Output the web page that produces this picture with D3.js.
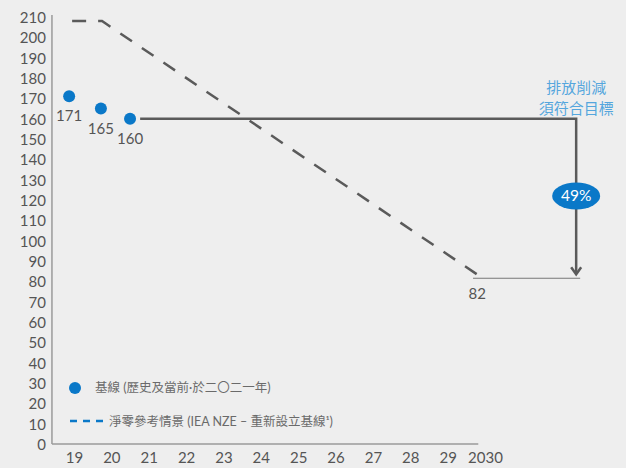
<!DOCTYPE html>
<html><head><meta charset="utf-8">
<script src="https://cdn.jsdelivr.net/npm/d3@7"></script>
<style>
html,body{margin:0;padding:0;background:#eeeeee;}
svg{display:block;font-family:Lato,"Noto Sans CJK TC",sans-serif;}
</style></head>
<body>
<svg id="c" width="626" height="468"></svg>
<script>
// ---- data ----
const xTickYears = [2019,2020,2021,2022,2023,2024,2025,2026,2027,2028,2029,2030];
const xTickLabels = ["19","20","21","22","23","24","25","26","27","28","29","2030"];
const yTicks = d3.range(0, 211, 10);
const baseYears = [2018.87, 2019.72, 2020.5];
const baseValues = [171, 165, 160];
const baseLabels = ["171", "165", "160"];
const nzeYears = [2018.95, 2019.75, 2029.9];
const nzeValues = [208, 208, 82];
const targetYears = [2020.77, 2032.44];
const targetValues = [160, 82];
const reductionLabel = "49%";
const targetTitle = ["排放削減", "須符合目標"];
const legendLabels = ["基線 (歷史及當前·於二〇二一年)", "淨零參考情景 (IEA NZE – 重新設立基線¹)"];

// ---- layout ----
const svg = d3.select("#c");
const x = d3.scaleLinear().domain([2019, 2030]).range([74, 485]);
const y = d3.scaleLinear().domain([0, 210]).range([444, 17]);
const gray = "#5a5a5a", axisGray = "#9a9a9a", blue = "#0a78c8", txt = "#555";

// axes lines
svg.append("line").attr("x1", x(2018.41)).attr("x2", x(2018.41)).attr("y1", y(0)).attr("y2", y(211))
  .attr("stroke", axisGray).attr("stroke-width", 1.5);
svg.append("line").attr("x1", x(2018.41)).attr("x2", x(2029.82)).attr("y1", y(0)).attr("y2", y(0))
  .attr("stroke", axisGray).attr("stroke-width", 1.5);

// y axis labels
const yAx = svg.append("g").attr("transform", `translate(${x(2018.41) - 6},0)`)
  .call(d3.axisLeft(y).tickValues(yTicks).tickSize(0).tickPadding(0));
yAx.select(".domain").remove();
yAx.selectAll("text").attr("font-size", 15).attr("fill", txt).attr("font-family", "Lato").attr("dy", "0.36em");

// x axis labels
const xAx = svg.append("g").attr("transform", `translate(0,${y(0) + 8})`)
  .call(d3.axisBottom(x).tickValues(xTickYears).tickFormat((d, i) => xTickLabels[i]).tickSize(0).tickPadding(0));
xAx.select(".domain").remove();
xAx.selectAll("text").attr("font-size", 15).attr("fill", txt).attr("font-family", "Lato");

// NZE dashed line
const line = d3.line().x(d => x(d[0])).y(d => y(d[1]));
svg.append("path").datum(nzeYears.map((d, i) => [d, nzeValues[i]]))
  .attr("d", line).attr("fill", "none").attr("stroke", gray).attr("stroke-width", 2.5)
  .attr("stroke-dasharray", "14 12");
svg.append("text").attr("x", x(nzeYears[2]) - 4).attr("y", y(nzeValues[2]) + 22)
  .attr("text-anchor", "middle").attr("font-size", 15).attr("fill", txt).text(String(nzeValues[2]));

// target: horizontal solid line then down arrow
const tx0 = x(targetYears[0]), tx1 = x(targetYears[1]);
const ty0 = y(targetValues[0]), ty1 = y(targetValues[1]);
svg.append("line").attr("x1", x(2029.68)).attr("x2", tx1 + 4).attr("y1", ty1 + 1).attr("y2", ty1 + 1)
  .attr("stroke", "#777").attr("stroke-width", 1.2);
svg.append("path").attr("d", `M${tx0},${ty0}H${tx1}V${ty1 - 4}`)
  .attr("fill", "none").attr("stroke", gray).attr("stroke-width", 2.5);
svg.append("path").attr("d", `M${tx1 - 5},${ty1 - 10}L${tx1},${ty1 - 3}L${tx1 + 5},${ty1 - 10}`)
  .attr("fill", "none").attr("stroke", gray).attr("stroke-width", 2.5);

// 49% ellipse
const ey = y((targetValues[0] + targetValues[1]) / 2 + 1);
svg.append("ellipse").attr("cx", tx1).attr("cy", ey).attr("rx", 24).attr("ry", 13.5).attr("fill", blue);
svg.append("text").attr("x", tx1).attr("y", ey + 5.5).attr("text-anchor", "middle")
  .attr("font-size", 15.5).attr("fill", "#fff").text(reductionLabel);

// target title
targetTitle.forEach((t, i) => {
  svg.append("text").attr("x", tx1).attr("y", 93 + i * 21).attr("text-anchor", "middle")
    .attr("font-size", 15).attr("fill", "#55a6dd").attr("font-family", "Noto Sans CJK TC").text(t);
});

// baseline dots
svg.selectAll("circle.base").data(baseYears).enter().append("circle")
  .attr("class", "base").attr("cx", d => x(d)).attr("cy", (d, i) => y(baseValues[i]))
  .attr("r", 6).attr("fill", blue);
svg.selectAll("text.bl").data(baseYears).enter().append("text")
  .attr("class", "bl").attr("x", d => x(d)).attr("y", (d, i) => y(baseValues[i]) + 25)
  .attr("text-anchor", "middle").attr("font-size", 15).attr("fill", txt).text((d, i) => baseLabels[i]);

// legend
svg.append("circle").attr("cx", 75).attr("cy", 388).attr("r", 6).attr("fill", blue);
svg.append("text").attr("x", 95).attr("y", 392).attr("font-size", 12.5).attr("fill", "#6a6a6a")
  .attr("font-family", "Lato, 'Noto Sans CJK TC'").text(legendLabels[0]);
svg.append("line").attr("x1", 70).attr("x2", 103).attr("y1", 421).attr("y2", 421)
  .attr("stroke", blue).attr("stroke-width", 2.5).attr("stroke-dasharray", "7 6");
svg.append("text").attr("x", 109).attr("y", 425.5).attr("font-size", 12.5).attr("fill", "#6a6a6a")
  .attr("font-family", "Lato, 'Noto Sans CJK TC'").text(legendLabels[1]);
</script>
</body></html>
